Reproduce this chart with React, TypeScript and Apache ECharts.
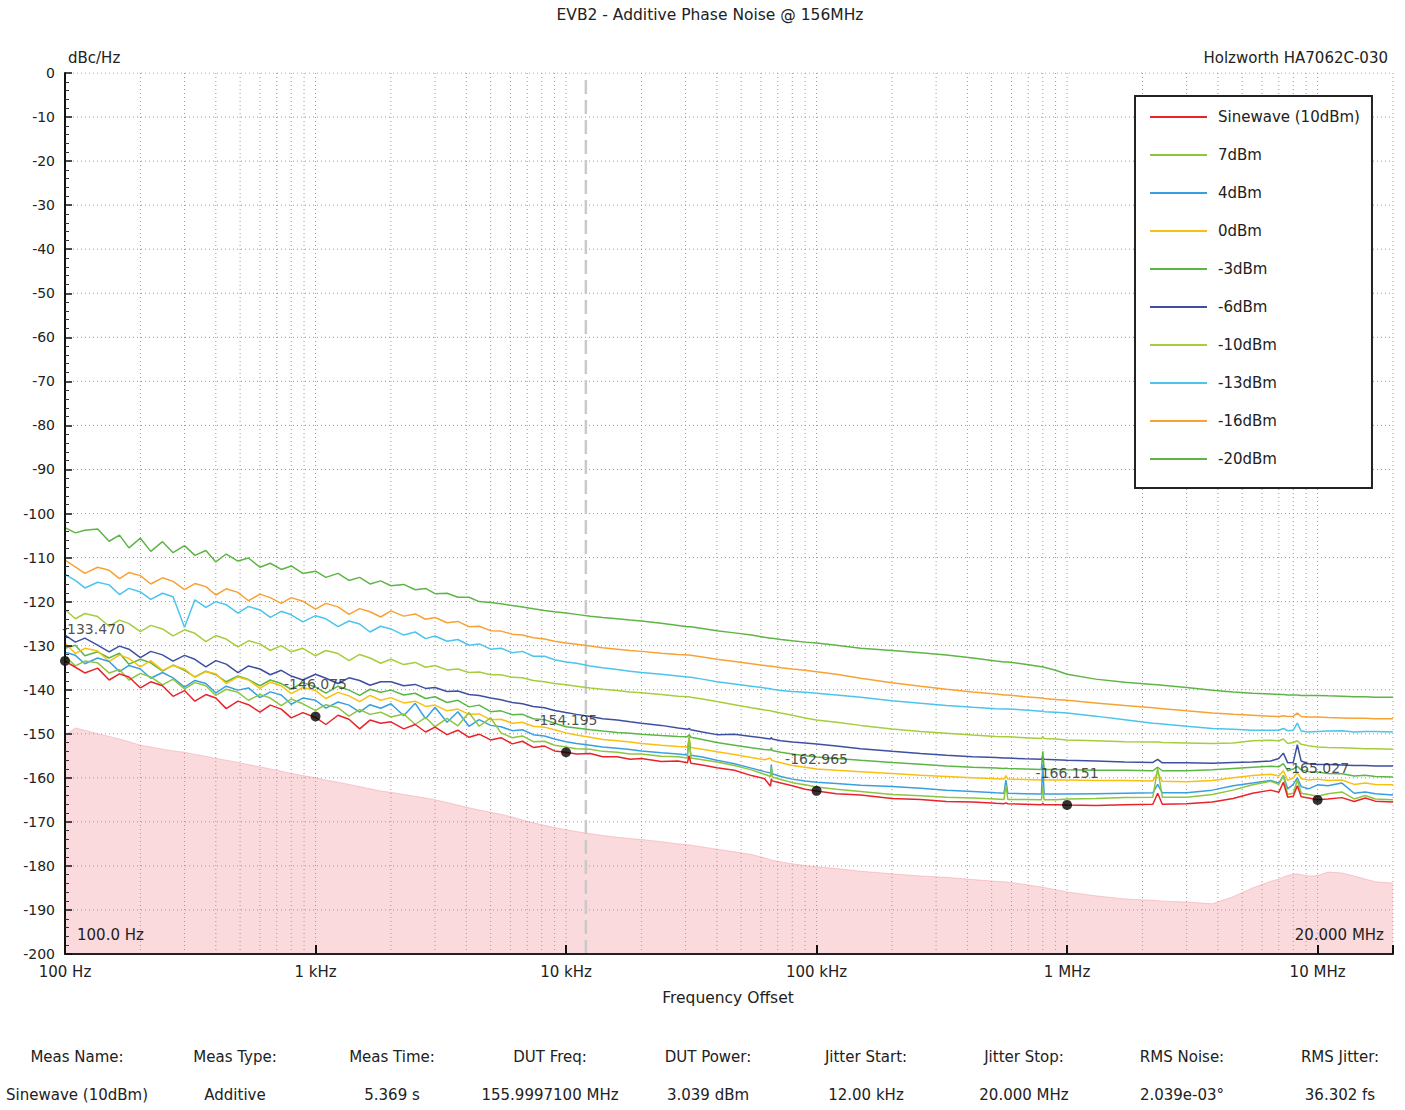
import React, { useEffect, useRef } from 'react';
import * as echarts from 'echarts';

// Offset frequencies (Hz), shared by all traces
const FREQ = [
  100, 110, 120, 135, 150, 165, 180, 200, 220, 245,
  270, 300, 330, 365, 400, 440, 490, 540, 600, 660,
  730, 800, 890, 1000, 1100, 1230, 1360, 1500, 1650, 1820,
  2000, 2250, 2500, 2750, 3000, 3350, 3700, 4100, 4500, 5000,
  5500, 6100, 6700, 7400, 8200, 9000, 10000, 11000, 12500, 14000,
  16000, 18000, 20000, 24000, 28000, 30500, 31000, 31500, 35000, 40000,
  47000, 55000, 62000, 65500, 66000, 66500, 72000, 80000, 90000, 100000,
  120000, 150000, 200000, 260000, 330000, 420000, 520000, 560000, 570000, 580000,
  680000, 790000, 800000, 810000, 900000, 1000000, 1300000, 1700000, 2200000, 2300000,
  2400000, 3000000, 3800000, 4600000, 5500000, 6500000, 7000000, 7300000, 7600000, 8000000,
  8300000, 8600000, 9200000, 10000000, 11000000, 12500000, 14000000, 15500000, 17000000, 20000000,
];

const SINE_10 = [
  -133.5, -134.9, -136.2, -135.1, -137.8, -136.4, -137.1, -139.6, -138.2, -139.1,
  -141.5, -140.2, -142.6, -141.1, -141.9, -144.3, -142.6, -143.4, -145.1, -143.5,
  -144.4, -146.4, -145.2, -146.3, -147.9, -145.8, -146.7, -148.9, -146.9, -147.6,
  -147.3, -148.9, -147.9, -149.6, -148.5, -150.2, -149.2, -150.8, -150.1, -151.4,
  -150.9, -152.3, -151.7, -153.1, -152.8, -153.9, -154.2, -154.6, -154.5, -155.2,
  -155.2, -155.8, -155.6, -156.3, -156.2, -156.6, -155, -156.7, -157.1, -157.7,
  -158.3, -159.5, -160.2, -161.9, -160.2, -160.7, -161.2, -161.8, -162.6, -163,
  -163.6, -163.9, -164.7, -164.9, -165.4, -165.5, -165.8, -165.9, -165.7, -165.9,
  -166, -166.1, -165.8, -166.1, -166.1, -166.2, -166.3, -166.1, -166, -163.5,
  -166, -165.9, -165.5, -164.7, -163.5, -162.8, -163.3, -161, -164.4, -164.2,
  -161.8, -164.3, -164.6, -165, -164.8, -164.5, -165.4, -164.6, -165.3, -165.5,
];

const P_7 = [
  -132.4, -134.6, -133.5, -133.9, -136.2, -135.4, -137.8, -136.3, -137.1, -138.9,
  -137.6, -139.8, -138.4, -139.1, -141.3, -139.9, -140.6, -142.4, -141.1, -141.9,
  -143.6, -142.1, -143.2, -144.7, -143.4, -144.1, -146, -144.5, -145.6, -145.1,
  -146.2, -145.5, -147.9, -146.3, -148.4, -146.5, -148.2, -145.2, -148.3, -146.4,
  -149.8, -150.9, -150.5, -151.8, -151.7, -152.6, -153, -153.4, -153.5, -154,
  -154.2, -154.6, -154.6, -155.1, -155.2, -155.5, -150.5, -155.5, -155.9, -156.4,
  -157.2, -158.2, -159.2, -159.7, -157.5, -159.8, -160.4, -161.1, -161.6, -162.1,
  -162.6, -163.1, -163.8, -164.1, -164.4, -164.6, -164.8, -164.9, -161.6, -164.9,
  -164.9, -165, -162, -165, -165, -164.8, -164.7, -164.5, -164.4, -157.8,
  -164.4, -164.4, -163.8, -162.8, -161.6, -160.8, -161.5, -159.5, -163.8, -163.5,
  -160.5, -163.5, -163.8, -164.2, -163.6, -163.2, -164.8, -164, -164.8, -165,
];

const P_4 = [
  -131.5, -132.2, -134.1, -132.8, -133.6, -135.9, -134.5, -135.3, -137.4, -136.1,
  -137.3, -139.4, -137.9, -138.6, -140.7, -139.2, -140.1, -139.6, -141.8, -140.5,
  -141.2, -143.3, -141.9, -142.4, -144.2, -142.8, -143.5, -145.1, -143.4, -144.2,
  -143.2, -145.9, -143.1, -146.6, -144, -147.4, -145, -148.3, -146.8, -148.1,
  -148.4, -149.3, -149.1, -150.2, -150.5, -151.2, -151.8, -152.2, -152.6, -153,
  -153.3, -153.6, -153.9, -154.3, -154.6, -154.8, -151.5, -154.9, -155.3, -156,
  -156.8, -157.8, -158.6, -158.9, -157, -159.1, -159.7, -160.3, -160.7, -161,
  -161.3, -161.7, -162, -162.4, -162.8, -163.1, -163.4, -163.5, -160.5, -163.5,
  -163.6, -163.7, -157, -163.7, -163.7, -163.7, -163.6, -163.5, -163.4, -161.5,
  -163.4, -163.4, -162.8, -161.8, -161.2, -160.6, -161.2, -159.5, -162.5, -161.5,
  -160, -162, -162.5, -161.6, -161.8, -161.2, -163.5, -163.2, -163.6, -163.9,
];

const P_0 = [
  -129.4, -131.8, -130.6, -131.2, -133.6, -132.1, -132.9, -134.8, -133.4, -135.6,
  -134.5, -135.3, -137.2, -135.9, -136.4, -138.6, -137.1, -137.8, -139.7, -138.3,
  -139.1, -140.9, -139.5, -140.2, -142, -140.6, -141.4, -142.7, -141.3, -142.4,
  -141.8, -143, -142.6, -143.8, -143.5, -144.8, -144.4, -145.6, -145.5, -146.8,
  -146.7, -147.6, -147.4, -148.3, -148.5, -149.1, -149.8, -150.3, -150.8, -151.3,
  -151.6, -151.9, -152.2, -152.6, -152.9, -153, -151, -153.1, -153.5, -154.1,
  -154.7, -155.4, -155.9, -155.5, -155.9, -156.1, -156.6, -157.2, -157.6, -158,
  -158.3, -158.6, -159, -159.4, -159.7, -160, -160.2, -160.3, -159.5, -160.3,
  -160.4, -160.5, -159.7, -160.5, -160.5, -160.5, -160.6, -160.6, -160.7, -158.8,
  -160.8, -160.9, -160.6, -160, -159.5, -159.2, -159.6, -158.4, -160.6, -160,
  -158.8, -160.2, -160.5, -160.3, -160.6, -160.5, -161.5, -161.2, -161.5, -161.6,
];

const M_3 = [
  -130.6, -129.9, -132.3, -131.4, -132.8, -131.7, -134.2, -133.1, -133.9, -135.8,
  -134.4, -135.6, -137.1, -135.8, -136.6, -138.2, -136.9, -137.7, -139.1, -137.8,
  -138.6, -139.9, -138.4, -139.4, -140.8, -139.2, -140.1, -141.3, -139.9, -140.6,
  -140.1, -141.2, -140.8, -142, -141.6, -142.9, -142.4, -143.9, -143.5, -145,
  -144.8, -145.7, -145.6, -146.6, -146.8, -147.6, -148.4, -148.7, -149.1, -149.4,
  -149.7, -149.9, -150.1, -150.4, -150.6, -150.7, -150.2, -150.8, -151.3, -152,
  -152.6, -153.2, -153.6, -153.7, -153.2, -153.8, -154.2, -154.6, -155, -155.3,
  -155.6, -156, -156.5, -156.9, -157.3, -157.6, -157.8, -157.9, -157.8, -157.9,
  -158, -158.1, -154, -158.1, -158.1, -158.2, -158.3, -158.3, -158.4, -157.6,
  -158.4, -158.4, -158.2, -157.9, -157.6, -157.4, -157.5, -156.8, -158.4, -158,
  -157.4, -158.2, -158.6, -158.7, -159, -159.1, -159.6, -159.4, -159.7, -159.8,
];

const M_6 = [
  -127.6, -129.2, -128.3, -129.9, -131.4, -130.1, -130.8, -132.7, -131.3, -132.1,
  -133.5, -132.2, -133.1, -134.8, -133.4, -134.2, -136.1, -134.6, -135.3, -136.6,
  -135.6, -136.9, -137.8, -136.5, -137.4, -138.6, -137.3, -137.9, -139, -138.2,
  -138.2, -139.1, -138.8, -139.7, -139.5, -140.4, -140.3, -141.1, -141.3, -141.9,
  -142.3, -142.9, -143.2, -143.8, -144.1, -144.7, -145.2, -145.6, -146.1, -146.6,
  -146.9, -147.3, -147.6, -148.1, -148.7, -149, -148.8, -149.1, -149.6, -150.2,
  -150.1, -150.6, -151, -151.2, -150.8, -151.2, -151.6, -151.9, -152.1, -152.3,
  -152.8, -153.4, -154, -154.5, -154.9, -155.2, -155.4, -155.5, -155.5, -155.5,
  -155.7, -155.8, -155.2, -155.8, -155.9, -156, -156.2, -156.4, -156.5, -155.8,
  -156.6, -156.6, -156.7, -156.5, -156.4, -156.2, -155.6, -154.4, -156.6, -156.5,
  -152.5, -156.2, -156.8, -157, -157, -157.1, -157.2, -157.2, -157.3, -157.3,
];

const M_10 = [
  -121.8, -123.9, -122.7, -123.4, -125.6, -124.2, -125, -126.8, -125.4, -126.2,
  -127.8, -126.4, -127.2, -129.1, -127.7, -128.5, -130.3, -128.9, -129.6, -131.1,
  -130, -131.4, -130.6, -132.3, -131.1, -131.8, -133.4, -132, -132.8, -134,
  -133.1, -134.3, -133.8, -134.9, -134.5, -135.5, -135.3, -136.1, -136, -136.6,
  -136.6, -137.2, -137.3, -137.9, -138.2, -138.6, -138.9, -139.2, -139.6, -139.9,
  -140.2, -140.5, -140.7, -141.1, -141.5, -141.6, -141.6, -141.7, -142.1, -142.7,
  -143.4, -144.1, -144.6, -144.8, -144.8, -144.9, -145.3, -145.8, -146.4, -146.9,
  -147.4, -148.1, -148.9, -149.5, -149.9, -150.3, -150.6, -150.7, -150.7, -150.7,
  -150.9, -151.1, -150.6, -151.1, -151.2, -151.4, -151.6, -151.8, -151.9, -151.9,
  -152, -152.1, -152.2, -152.1, -151.6, -151.5, -151.6, -151.2, -152.2, -152,
  -151.6, -152.4, -152.7, -153, -153.1, -153.2, -153.3, -153.4, -153.4, -153.5,
];

const M_13 = [
  -113.8, -115.2, -116.9, -115.6, -116.2, -118.4, -117, -117.8, -119.5, -118.1,
  -118.9, -125.8, -119.6, -121.3, -120, -120.7, -122.6, -121.1, -121.9, -123.6,
  -122.2, -123, -124.6, -123.2, -123.9, -125.7, -124.4, -125.1, -126.9, -125.6,
  -126.2, -127.6, -126.9, -128.4, -127.8, -129, -128.6, -129.9, -129.6, -130.8,
  -130.6, -131.6, -131.3, -132.4, -132.4, -133.2, -133.7, -134, -134.6, -135,
  -135.4, -135.8, -136.1, -136.5, -136.9, -137.1, -137.1, -137.2, -137.6, -138.2,
  -138.7, -139.2, -139.6, -139.8, -139.8, -139.9, -140.2, -140.4, -140.6, -140.8,
  -141.2, -141.7, -142.5, -143.1, -143.6, -144, -144.3, -144.4, -144.4, -144.4,
  -144.6, -144.9, -144.8, -145, -145.1, -145.3, -146, -146.8, -147.6, -147.7,
  -147.8, -148.3, -148.8, -149, -149.2, -149.2, -149.2, -148.8, -149.3, -149.2,
  -147.6, -149.4, -149.6, -149.5, -149.4, -149.3, -149.6, -149.5, -149.5, -149.6,
];

const M_16 = [
  -110.6, -112.1, -113.6, -112.2, -112.9, -114.8, -113.4, -114.1, -116, -114.6,
  -115.4, -117.3, -115.9, -116.6, -118.5, -117.1, -117.9, -119.8, -118.3, -119.1,
  -120.4, -119.1, -119.9, -121.7, -120.4, -121.2, -122.9, -121.6, -122.3, -123.5,
  -122.1, -123.3, -122.8, -124, -123.6, -124.8, -124.5, -125.7, -125.6, -126.6,
  -126.7, -127.4, -127.6, -128.2, -128.5, -129, -129.4, -129.7, -130.1, -130.5,
  -130.8, -131.1, -131.3, -131.7, -132, -132.1, -132.1, -132.2, -132.6, -133.1,
  -133.6, -134.1, -134.5, -134.7, -134.7, -134.7, -135, -135.3, -135.6, -135.9,
  -136.5, -137.4, -138.4, -139.2, -139.9, -140.5, -141, -141.2, -141.2, -141.2,
  -141.6, -141.9, -141.9, -142, -142.2, -142.4, -143, -143.6, -144.1, -144.2,
  -144.3, -144.8, -145.3, -145.6, -145.8, -146, -146.1, -145.9, -146.1, -146,
  -145.3, -146.1, -146.2, -146.2, -146.3, -146.4, -146.5, -146.5, -146.6, -146.6,
];

const M_20 = [
  -103.2, -104.4, -103.8, -103.5, -106.3, -104.9, -107.8, -105.6, -108.6, -106.4,
  -108.9, -107.3, -109.5, -108.4, -111, -109.2, -110.8, -110.1, -112.2, -111.3,
  -112.7, -111.9, -113.6, -113.1, -114.5, -113.6, -115.2, -114.5, -116, -115.3,
  -116.4, -116.1, -117.3, -117, -118.2, -118.1, -119, -119, -120, -120.2,
  -120.5, -120.9, -121.2, -121.6, -122, -122.3, -122.6, -122.9, -123.3, -123.6,
  -123.9, -124.2, -124.4, -124.9, -125.4, -125.7, -125.7, -125.7, -126.1, -126.6,
  -127.1, -127.6, -128.1, -128.3, -128.3, -128.3, -128.6, -128.9, -129.2, -129.4,
  -129.9, -130.6, -131.1, -131.6, -132.1, -132.8, -133.5, -133.7, -133.7, -133.7,
  -134.2, -134.8, -134.8, -134.9, -135.6, -136.5, -137.6, -138.3, -138.8, -138.9,
  -139, -139.5, -140.1, -140.5, -140.8, -141, -141.1, -141.1, -141.2, -141.2,
  -141.2, -141.3, -141.3, -141.3, -141.4, -141.5, -141.6, -141.6, -141.7, -141.7,
];

// Instrument noise floor (pink area)
const FLOOR = [
  -150.3, -148.7, -149.2, -150, -150.6, -151.2, -151.8, -152.6, -153, -153.5,
  -153.9, -154.2, -154.7, -155.1, -155.6, -156, -156.5, -157, -157.5, -158,
  -158.5, -159, -159.5, -160, -160.5, -161, -161.5, -162, -162.5, -163,
  -163.3, -163.8, -164.2, -164.6, -165, -165.6, -166.2, -166.8, -167.3, -167.8,
  -168.3, -168.9, -169.6, -170.2, -170.8, -171.3, -171.8, -172.2, -172.7, -173.1,
  -173.5, -173.8, -174, -174.5, -175, -175.2, -175.2, -175.3, -175.7, -176.2,
  -176.8, -177.4, -178.2, -178.6, -178.6, -178.7, -179.1, -179.5, -179.9, -180.2,
  -180.6, -181.2, -181.8, -182.3, -182.6, -183.1, -183.5, -183.6, -183.6, -183.7,
  -184.2, -184.8, -184.8, -184.9, -185.4, -185.9, -186.8, -187.5, -187.8, -187.9,
  -188, -188.2, -188.6, -187, -185, -183.5, -183, -182.5, -182.2, -181.9,
  -181.8, -182, -182.3, -182.2, -181.4, -181.6, -182.3, -183, -183.6, -183.9,
];

const MARKER_FREQ = [100, 1000, 10000, 100000, 1000000, 10000000];
const MARKER_VAL = [-133.47, -146.075, -154.195, -162.965, -166.151, -165.027];

const X_MIN = 100;
const X_MAX = 20000000;
const Y_MIN = -200;
const Y_MAX = 0;
const X_TICKS = [100, 1000, 10000, 100000, 1000000, 10000000];
const X_TICK_LABELS = ['100 Hz', '1 kHz', '10 kHz', '100 kHz', '1 MHz', '10 MHz'];
const DECADES = [100, 1000, 10000, 100000, 1000000, 10000000];
const GRID_MULT = [1, 2, 3, 4, 5, 6, 7, 8, 9];
const Y_GRID = [-190, -180, -170, -160, -150, -140, -130, -120, -110, -100, -90, -80, -70, -60, -50, -40, -30, -20, -10, 0];
const JITTER_START = 12000;

const TABLE_HEAD = ['Meas Name:', 'Meas Type:', 'Meas Time:', 'DUT Freq:', 'DUT Power:', 'Jitter Start:', 'Jitter Stop:', 'RMS Noise:', 'RMS Jitter:'];
const TABLE_VAL = ['Sinewave (10dBm)', 'Additive', '5.369 s', '155.9997100 MHz', '3.039 dBm', '12.00 kHz', '20.000 MHz', '2.039e-03°', '36.302 fs'];

const TRACES = [
  { name: 'Sinewave (10dBm)', color: '#e8232b', values: SINE_10 },
  { name: '7dBm', color: '#8cc63e', values: P_7 },
  { name: '4dBm', color: '#3a9fe0', values: P_4 },
  { name: '0dBm', color: '#f9c012', values: P_0 },
  { name: '-3dBm', color: '#5cb646', values: M_3 },
  { name: '-6dBm', color: '#3e4fa2', values: M_6 },
  { name: '-10dBm', color: '#a6cd3c', values: M_10 },
  { name: '-13dBm', color: '#4cc4ec', values: M_13 },
  { name: '-16dBm', color: '#f7a234', values: M_16 },
  { name: '-20dBm', color: '#5eb546', values: M_20 },
];

const FONT = 'DejaVu Sans';
const TXT = '#222';

function txt(text: string, x: number, y: number, align: string, size = 15) {
  return {
    type: 'text',
    x,
    y,
    z: 30,
    silent: true,
    style: {
      text,
      fill: TXT,
      fontFamily: FONT,
      fontSize: size,
      align,
      verticalAlign: 'middle',
      textAlign: align,
      textVerticalAlign: 'middle',
    },
  };
}

export default function App() {
  const ref = useRef<HTMLDivElement>(null);

  useEffect(() => {
    if (!ref.current) return;
    const chart = echarts.init(ref.current, null, { renderer: 'svg' });

    // Grid lines as broken line series
    const vGrid: any[] = [];
    for (const d of DECADES) {
      for (const m of GRID_MULT) {
        const v = d * m;
        if (v > X_MIN && v <= X_MAX) {
          vGrid.push([v, Y_MIN], [v, Y_MAX], [v, '-']);
        }
      }
    }
    const hGrid: any[] = [];
    for (const y of Y_GRID) {
      hGrid.push([X_MIN, y], [X_MAX, y], [X_MAX, '-']);
    }

    const traceSeries = TRACES.slice()
      .reverse()
      .map((t) => ({
        type: 'line',
        name: t.name,
        data: FREQ.map((f, i) => [f, t.values[i]]),
        showSymbol: false,
        symbol: 'none',
        lineStyle: { width: 1.5, color: t.color },
        itemStyle: { color: t.color },
        z: 7,
      }));

    const headY = 1057;
    const valY = 1095;
    const colX = [77, 235, 392, 550, 708, 866, 1024, 1182, 1340];

    const graphics: any[] = [
      txt('EVB2 - Additive Phase Noise @ 156MHz', 710, 15, 'center', 15.5),
      txt('dBc/Hz', 68, 58, 'left'),
      txt('Holzworth HA7062C-030', 1388, 58, 'right'),
      txt('Frequency Offset', 728, 998, 'center', 15.5),
      txt('100.0 Hz', 77, 935, 'left'),
      txt('20.000 MHz', 1384, 935, 'right'),
    ];
    TABLE_HEAD.forEach((h, i) => graphics.push(txt(h, colX[i], headY, 'center')));
    TABLE_VAL.forEach((v, i) => graphics.push(txt(v, colX[i], valY, 'center')));

    const gridStyle = { type: [1, 3], color: '#9a9a9a', width: 1 };

    const option: any = {
      animation: false,
      backgroundColor: '#fff',
      grid: { left: 65, right: 12, top: 73, bottom: 156, containLabel: false },
      legend: {
        data: TRACES.map((t) => t.name),
        orient: 'vertical',
        left: 1135,
        top: 96,
        z: 20,
        padding: [13, 12, 21, 15],
        itemGap: 22,
        itemWidth: 57,
        itemHeight: 2,
        icon: 'rect',
        selectedMode: false,
        backgroundColor: '#fff',
        borderColor: '#222',
        borderWidth: 2,
        textStyle: { fontFamily: FONT, fontSize: 15, color: TXT, lineHeight: 16, padding: [0, 0, 0, 6] },
      },
      xAxis: {
        type: 'log',
        logBase: 10,
        min: X_MIN,
        max: X_MAX,
        z: 12,
        axisLine: { show: true, onZero: false, lineStyle: { color: '#222', width: 2 } },
        axisTick: { show: true, inside: true, length: 9, lineStyle: { color: '#111', width: 2 } },
        axisLabel: {
          fontFamily: FONT,
          fontSize: 15,
          color: TXT,
          margin: 10,
          formatter: (v: number) => {
            const idx = X_TICKS.findIndex((t) => Math.abs(t - v) / t < 1e-6);
            return idx >= 0 ? X_TICK_LABELS[idx] : '';
          },
        },
        splitLine: { show: false },
        minorTick: { show: false },
      },
      yAxis: {
        type: 'value',
        min: Y_MIN,
        max: Y_MAX,
        interval: 10,
        z: 12,
        axisLine: { show: true, onZero: false, lineStyle: { color: '#111', width: 2 } },
        axisTick: { show: true, inside: true, length: 7, lineStyle: { color: '#111', width: 1.5 } },
        minorTick: { show: true, splitNumber: 5, length: 4, lineStyle: { color: '#333', width: 1 } },
        axisLabel: { fontFamily: FONT, fontSize: 14, color: TXT, margin: 10 },
        splitLine: { show: false },
      },
      series: [
        {
          type: 'line',
          name: 'vgrid',
          data: vGrid,
          showSymbol: false,
          symbol: 'none',
          silent: true,
          connectNulls: false,
          lineStyle: gridStyle,
          z: 1,
        },
        {
          type: 'line',
          name: 'hgrid',
          data: hGrid,
          showSymbol: false,
          symbol: 'none',
          silent: true,
          connectNulls: false,
          lineStyle: gridStyle,
          z: 1,
        },
        {
          type: 'line',
          name: 'Noise floor',
          data: FREQ.map((f, i) => [f, FLOOR[i]]),
          showSymbol: false,
          symbol: 'none',
          lineStyle: { width: 1, color: 'rgba(238,129,138,0.35)' },
          areaStyle: { color: 'rgba(238,129,138,0.42)', origin: 'start' },
          z: 2,
        },
        {
          type: 'line',
          name: 'jitter start',
          data: [[JITTER_START, Y_MIN], [JITTER_START, Y_MAX]],
          showSymbol: false,
          symbol: 'none',
          silent: true,
          lineStyle: { type: [14, 6], color: '#c9c9c9', width: 2.5 },
          z: 5,
        },
        ...traceSeries,
        {
          type: 'scatter',
          name: 'Markers',
          data: MARKER_FREQ.map((f, i) =>
            i === 0
              ? { value: [f, MARKER_VAL[i]], label: { align: 'left', offset: [-3, 0] } }
              : { value: [f, MARKER_VAL[i]] }
          ),
          symbolSize: 10,
          itemStyle: { color: '#000' },
          z: 9,
          label: {
            show: true,
            position: 'top',
            distance: 20,
            fontFamily: FONT,
            fontSize: 14,
            color: TXT,
            formatter: (p: any) => p.value[1].toFixed(3),
          },
        },
      ],
      graphic: graphics,
    };

    chart.setOption(option);
    return () => chart.dispose();
  }, []);

  return (
    <div
      ref={ref}
      style={{ position: 'fixed', left: 0, top: 0, width: 1405, height: 1110, background: '#fff' }}
    />
  );
}
